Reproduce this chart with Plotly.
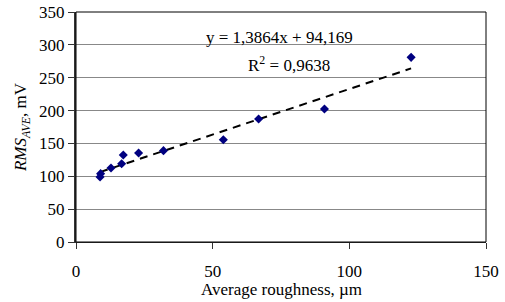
import plotly.graph_objects as go

roughness = [8.8, 9.0, 12.8, 16.7, 17.3, 22.9, 32.0, 53.9, 66.8, 90.9, 122.6]
rms_ave = [99, 104, 112.6, 119, 132.4, 135.4, 139, 155.7, 187.2, 202.4, 281]
slope = 1.3864
intercept = 94.169
x_ticks = [0, 50, 100, 150]
y_ticks = [0, 50, 100, 150, 200, 250, 300, 350]

font = "Liberation Serif, Times New Roman, serif"

xfit = [min(roughness), max(roughness)]
yfit = [slope * v + intercept for v in xfit]

fig = go.Figure()
fig.add_trace(go.Scatter(x=xfit, y=yfit, mode="lines",
                         line=dict(color="black", width=2, dash="8px,6px"),
                         showlegend=False, hoverinfo="skip"))
fig.add_trace(go.Scatter(x=roughness, y=rms_ave, mode="markers",
                         marker=dict(symbol="diamond", color="#000080", size=7),
                         showlegend=False))

fig.add_annotation(x=74.6, y=311, xref="x", yref="y", showarrow=False,
                   text="y = 1,3864x + 94,169", font=dict(family=font, size=17, color="black"))
fig.add_annotation(x=78, y=271, xref="x", yref="y", showarrow=False,
                   text="R<sup>2</sup> = 0,9638", font=dict(family=font, size=17, color="black"))
fig.add_annotation(x=0.5, y=-0.205, xref="paper", yref="paper", showarrow=False,
                   yanchor="middle", text="Average roughness, µm",
                   font=dict(family=font, size=17, color="black"))

fig.add_shape(type="rect", xref="paper", yref="paper", x0=0, y0=0, x1=1, y1=1,
              line=dict(color="black", width=1), layer="above")

fig.update_layout(
    width=505, height=302,
    margin=dict(l=76, r=19, t=12, b=60),
    paper_bgcolor="white", plot_bgcolor="white",
    font=dict(family=font, size=17, color="black"),
    xaxis=dict(range=[0, 150], tickvals=x_ticks, showgrid=False, zeroline=False,
               automargin=False,
               showline=True, linecolor="#333", linewidth=1,
               ticks="outside", ticklen=6, tickcolor="#333",
               ticklabelstandoff=8,
               tickfont=dict(family=font, size=17)),
    yaxis=dict(range=[0, 350], tickvals=y_ticks, showgrid=True, gridcolor="#888",
               gridwidth=1, zeroline=False, automargin=False,
               showline=True, linecolor="#333", linewidth=2,
               ticks="outside", ticklen=6, tickcolor="#333",
               tickfont=dict(family=font, size=17),
               title=dict(text="<i>RMS<sub>AVE</sub></i>, mV", standoff=8,
                          font=dict(family=font, size=17))),
)

fig.write_html("out.html", config={"displayModeBar": False},
               post_script="document.body.style.margin='0';")
